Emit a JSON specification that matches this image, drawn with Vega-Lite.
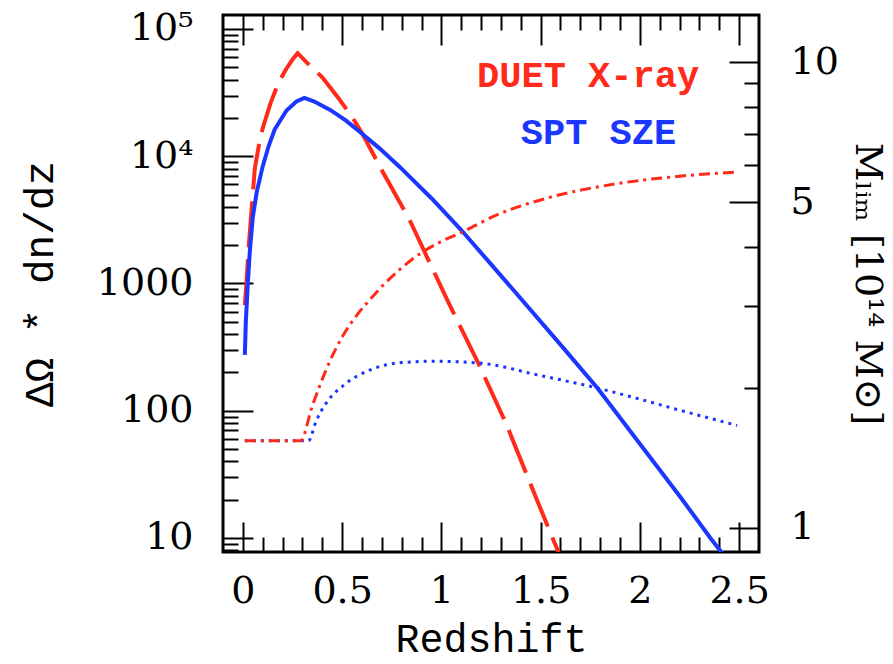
{
  "$schema": "https://vega.github.io/schema/vega-lite/v6.json",
  "width": 536,
  "height": 537,
  "autosize": {"type": "none"},
  "padding": {"left": 223, "top": 15, "right": 134, "bottom": 112},
  "background": "white",
  "config": {
    "view": {"stroke": "black", "strokeWidth": 3},
    "axis": {
      "domain": false, "grid": false, "tickColor": "black", "tickWidth": 2,
      "labelColor": "black", "titleColor": "black", "labelFont": "DejaVu Serif",
      "labelFontSize": 38, "titleFontWeight": "normal", "labelOverlap": false, "labelFlush": false
    }
  },
  "datasets": {
    "curves": [
      {"series": "dn_xray", "z": 0.01, "v": 676},
      {"series": "dn_xray", "z": 0.02, "v": 1122},
      {"series": "dn_xray", "z": 0.03, "v": 1995},
      {"series": "dn_xray", "z": 0.045, "v": 3981},
      {"series": "dn_xray", "z": 0.06, "v": 7943},
      {"series": "dn_xray", "z": 0.08, "v": 12023},
      {"series": "dn_xray", "z": 0.1, "v": 16596},
      {"series": "dn_xray", "z": 0.14, "v": 26303},
      {"series": "dn_xray", "z": 0.18, "v": 38019},
      {"series": "dn_xray", "z": 0.22, "v": 48978},
      {"series": "dn_xray", "z": 0.25, "v": 57544},
      {"series": "dn_xray", "z": 0.276, "v": 64565},
      {"series": "dn_xray", "z": 0.32, "v": 54954},
      {"series": "dn_xray", "z": 0.4, "v": 41687},
      {"series": "dn_xray", "z": 0.48, "v": 28840},
      {"series": "dn_xray", "z": 0.55, "v": 20417},
      {"series": "dn_xray", "z": 0.6, "v": 15241},
      {"series": "dn_xray", "z": 0.7, "v": 7762},
      {"series": "dn_xray", "z": 0.84, "v": 3162},
      {"series": "dn_xray", "z": 0.93, "v": 1585},
      {"series": "dn_xray", "z": 1.03, "v": 741},
      {"series": "dn_xray", "z": 1.19, "v": 229},
      {"series": "dn_xray", "z": 1.325, "v": 80},
      {"series": "dn_xray", "z": 1.476, "v": 20.9},
      {"series": "dn_xray", "z": 1.56, "v": 10},
      {"series": "dn_xray", "z": 1.6, "v": 7.1},
      {"series": "dn_sze", "z": 0.01, "v": 275},
      {"series": "dn_sze", "z": 0.015, "v": 501},
      {"series": "dn_sze", "z": 0.025, "v": 1000},
      {"series": "dn_sze", "z": 0.035, "v": 1778},
      {"series": "dn_sze", "z": 0.05, "v": 3311},
      {"series": "dn_sze", "z": 0.07, "v": 5248},
      {"series": "dn_sze", "z": 0.1, "v": 8318},
      {"series": "dn_sze", "z": 0.13, "v": 12023},
      {"series": "dn_sze", "z": 0.16, "v": 16218},
      {"series": "dn_sze", "z": 0.22, "v": 22909},
      {"series": "dn_sze", "z": 0.27, "v": 26915},
      {"series": "dn_sze", "z": 0.31, "v": 28708},
      {"series": "dn_sze", "z": 0.36, "v": 26915},
      {"series": "dn_sze", "z": 0.44, "v": 23121},
      {"series": "dn_sze", "z": 0.52, "v": 19055},
      {"series": "dn_sze", "z": 0.59, "v": 15488},
      {"series": "dn_sze", "z": 0.69, "v": 11482},
      {"series": "dn_sze", "z": 0.79, "v": 8241},
      {"series": "dn_sze", "z": 0.95, "v": 4677},
      {"series": "dn_sze", "z": 1.1, "v": 2630},
      {"series": "dn_sze", "z": 1.29, "v": 1202},
      {"series": "dn_sze", "z": 1.39, "v": 794},
      {"series": "dn_sze", "z": 1.6, "v": 331},
      {"series": "dn_sze", "z": 1.79, "v": 148},
      {"series": "dn_sze", "z": 1.99, "v": 57.5},
      {"series": "dn_sze", "z": 2.2, "v": 21.4},
      {"series": "dn_sze", "z": 2.355, "v": 10},
      {"series": "dn_sze", "z": 2.41, "v": 7.76},
      {"series": "dn_sze", "z": 2.44, "v": 6.8},
      {"series": "m_xray", "z": 0.01, "v": 1.538},
      {"series": "m_xray", "z": 0.29, "v": 1.538},
      {"series": "m_xray", "z": 0.35, "v": 1.828},
      {"series": "m_xray", "z": 0.42, "v": 2.188},
      {"series": "m_xray", "z": 0.5, "v": 2.57},
      {"series": "m_xray", "z": 0.58, "v": 2.884},
      {"series": "m_xray", "z": 0.648, "v": 3.119},
      {"series": "m_xray", "z": 0.72, "v": 3.365},
      {"series": "m_xray", "z": 0.788, "v": 3.581},
      {"series": "m_xray", "z": 0.904, "v": 3.908},
      {"series": "m_xray", "z": 1.0, "v": 4.121},
      {"series": "m_xray", "z": 1.104, "v": 4.315},
      {"series": "m_xray", "z": 1.28, "v": 4.699},
      {"series": "m_xray", "z": 1.55, "v": 5.129},
      {"series": "m_xray", "z": 1.9, "v": 5.495},
      {"series": "m_xray", "z": 2.2, "v": 5.689},
      {"series": "m_xray", "z": 2.49, "v": 5.808},
      {"series": "m_sze", "z": 0.01, "v": 1.538},
      {"series": "m_sze", "z": 0.33, "v": 1.538},
      {"series": "m_sze", "z": 0.37, "v": 1.7},
      {"series": "m_sze", "z": 0.42, "v": 1.854},
      {"series": "m_sze", "z": 0.51, "v": 2.028},
      {"series": "m_sze", "z": 0.64, "v": 2.183},
      {"series": "m_sze", "z": 0.78, "v": 2.26},
      {"series": "m_sze", "z": 0.96, "v": 2.28},
      {"series": "m_sze", "z": 1.19, "v": 2.26},
      {"series": "m_sze", "z": 1.49, "v": 2.128},
      {"series": "m_sze", "z": 1.79, "v": 1.995},
      {"series": "m_sze", "z": 1.98, "v": 1.9},
      {"series": "m_sze", "z": 2.2, "v": 1.79},
      {"series": "m_sze", "z": 2.49, "v": 1.66}
    ],
    "labels": [
      {"label": "DUET X-ray", "z": 1.18, "v": 42360},
      {"label": "SPT SZE", "z": 1.4, "v": 15240}
    ]
  },
  "layer": [
    {
      "encoding": {
        "x": {
          "field": "z", "type": "quantitative",
          "scale": {"domain": [-0.1, 2.6], "nice": false, "zero": false},
          "axis": {
            "orient": "bottom",
            "values": [0,0.1,0.2,0.3,0.4,0.5,0.6,0.7,0.8,0.9,1,1.1,1.2,1.3,1.4,1.5,1.6,1.7,1.8,1.9,2,2.1,2.2,2.3,2.4,2.5],
            "format": ".1~f",
            "tickSize": {"condition": {"test": "abs(datum.value*2 - round(datum.value*2)) < 0.001", "value": -30}, "value": -15},
            "labelExpr": "abs(datum.value*2 - round(datum.value*2)) < 0.001 ? datum.label : ''",
            "labelPadding": 50,
            "title": "Redshift",
            "titleFont": "Liberation Mono",
            "titleFontSize": 40,
            "titleY": 99,
            "titleBaseline": "alphabetic"
          }
        },
        "y": {
          "field": "v", "type": "quantitative",
          "scale": {"type": "log", "domain": [7.76, 128800], "nice": false},
          "axis": {
            "orient": "left",
            "values": [8,9,10,20,30,40,50,60,70,80,90,100,200,300,400,500,600,700,800,900,1000,2000,3000,4000,5000,6000,7000,8000,9000,10000,20000,30000,40000,50000,60000,70000,80000,90000,100000],
            "tickSize": {"condition": {"test": "indexof([10,100,1000,10000,100000], datum.value) >= 0", "value": -30}, "value": -15},
            "labelExpr": "datum.value == 10 ? '10' : datum.value == 100 ? '100' : datum.value == 1000 ? '1000' : datum.value == 10000 ? '10⁴' : datum.value == 100000 ? '10⁵' : ''",
            "labelPadding": 60,
            "title": "ΔΩ * dn/dz",
            "titleFont": "Liberation Mono",
            "titleFontSize": 41,
            "titleX": -183,
            "titleBaseline": "middle"
          }
        }
      },
      "layer": [
        {
          "data": {"name": "curves"},
          "transform": [{"filter": "datum.series == 'dn_xray'"}],
          "mark": {"type": "line", "color": "#ff2a1a", "strokeWidth": 4, "strokeDash": [46, 12], "clip": true}
        },
        {
          "data": {"name": "curves"},
          "transform": [{"filter": "datum.series == 'dn_sze'"}],
          "mark": {"type": "line", "color": "#1a36ff", "strokeWidth": 4, "clip": true}
        },
        {
          "data": {"name": "labels"},
          "mark": {"type": "text", "align": "left", "baseline": "middle", "font": "Liberation Mono", "fontWeight": "bold", "fontSize": 37},
          "encoding": {
            "text": {"field": "label"},
            "color": {"field": "label", "type": "nominal", "scale": {"domain": ["DUET X-ray", "SPT SZE"], "range": ["#ff2a1a", "#1a36ff"]}, "legend": null}
          }
        }
      ]
    },
    {
      "encoding": {
        "x": {
          "field": "z", "type": "quantitative",
          "axis": {
            "orient": "top",
            "values": [0,0.1,0.2,0.3,0.4,0.5,0.6,0.7,0.8,0.9,1,1.1,1.2,1.3,1.4,1.5,1.6,1.7,1.8,1.9,2,2.1,2.2,2.3,2.4,2.5],
            "tickSize": {"condition": {"test": "abs(datum.value*2 - round(datum.value*2)) < 0.001", "value": -30}, "value": -15},
            "labels": false,
            "title": null
          }
        },
        "y": {
          "field": "v", "type": "quantitative",
          "scale": {"type": "log", "domain": [0.888, 12.62], "nice": false},
          "axis": {
            "orient": "right",
            "values": [1,2,3,4,5,6,7,8,9,10],
            "format": "d",
            "tickSize": {"condition": {"test": "indexof([1,5,10], datum.value) >= 0", "value": -30}, "value": -15},
            "labelExpr": "indexof([1,5,10], datum.value) >= 0 ? datum.label : ''",
            "labelPadding": 61,
            "title": "Mₗᵢₘ [10¹⁴ M⊙]",
            "titleFont": "DejaVu Serif",
            "titleFontSize": 38,
            "titleAngle": 90,
            "titleX": 107,
            "titleBaseline": "middle"
          }
        }
      },
      "layer": [
        {
          "data": {"name": "curves"},
          "transform": [{"filter": "datum.series == 'm_sze'"}],
          "mark": {"type": "line", "color": "#1a36ff", "strokeWidth": 3, "strokeDash": [3, 5], "interpolate": "monotone", "clip": true}
        },
        {
          "data": {"name": "curves"},
          "transform": [{"filter": "datum.series == 'm_xray'"}],
          "mark": {"type": "line", "color": "#ff2a1a", "strokeWidth": 3, "strokeDash": [11, 5, 3, 5], "interpolate": "monotone", "clip": true}
        }
      ]
    }
  ],
  "resolve": {"scale": {"y": "independent"}, "axis": {"x": "independent"}}
}
